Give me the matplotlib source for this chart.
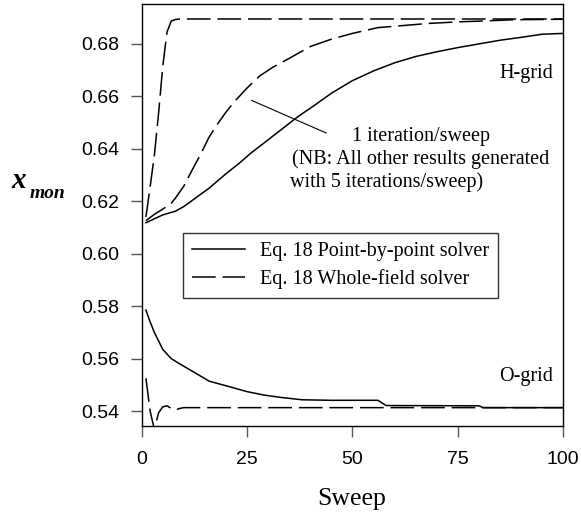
import matplotlib
matplotlib.use("Agg")
import matplotlib.pyplot as plt

# ---------------- data ----------------
# H-grid, Eq. 18 point-by-point solver (solid)
h_pp_sweep = [1, 3, 5, 8, 10, 13, 16, 20, 23, 26, 29, 33, 37, 41, 45, 50, 55,
              60, 65, 70, 75, 80, 85, 90, 95, 100]
h_pp_val = [0.6118, 0.6133, 0.6148, 0.6162, 0.6180, 0.6215, 0.6250, 0.6305, 0.6343,
            0.6385, 0.6422, 0.6472, 0.6522, 0.6566, 0.6612, 0.6660, 0.6697,
            0.6728, 0.6752, 0.6770, 0.6786, 0.6800, 0.6814, 0.6825, 0.6837, 0.6840]

# H-grid, Eq. 18 whole-field solver, 1 iteration/sweep (dashed)
h_wf1_sweep = [1, 3, 5, 7, 8, 10, 12, 14, 16, 18, 20, 22, 25, 28, 31, 35, 40, 45,
               50, 56, 62, 68, 75, 82, 88, 100]
h_wf1_val = [0.6126, 0.6150, 0.6170, 0.6192, 0.6212, 0.6258, 0.6320, 0.6380, 0.6445,
             0.6495, 0.6540, 0.6580, 0.6632, 0.6678, 0.6710, 0.6745, 0.6790, 0.6818,
             0.6840, 0.6862, 0.6870, 0.6878, 0.6884, 0.6888, 0.6892, 0.6894]

# H-grid, Eq. 18 whole-field solver, 5 iterations/sweep (dashed)
h_wf5_sweep = [1, 2, 3, 4, 5, 6, 7, 8, 9, 100]
h_wf5_val = [0.6140, 0.6255, 0.6375, 0.6535, 0.6715, 0.6845, 0.6887, 0.6893, 0.6895, 0.6895]

# O-grid, Eq. 18 point-by-point solver (solid)
o_pp_sweep = [1, 2, 3, 5, 7, 9, 12, 16, 21, 25, 29, 33, 38, 45, 56, 58, 80, 81, 100]
o_pp_val = [0.5785, 0.5740, 0.5700, 0.5635, 0.5600, 0.5580, 0.5552, 0.5514, 0.5492,
            0.5474, 0.5461, 0.5452, 0.5443, 0.5441, 0.5441, 0.5421, 0.5420, 0.5413, 0.5413]

# O-grid, Eq. 18 whole-field solver (dashed)
o_wf_sweep = [1, 2, 3, 4, 5, 6, 7, 8, 9, 10, 100]
o_wf_val = [0.5525, 0.5400, 0.5330, 0.5393, 0.5416, 0.5420, 0.5410, 0.5404, 0.5410,
            0.5413, 0.5413]

x_ticks = [0, 25, 50, 75, 100]
y_ticks = [0.54, 0.56, 0.58, 0.60, 0.62, 0.64, 0.66, 0.68]

legend_labels = ["Eq. 18 Point-by-point solver", "Eq. 18 Whole-field solver"]

# ---------------- figure ----------------
W, H = 581, 516
fig = plt.figure(figsize=(W / 100, H / 100), dpi=100)
ax_l, ax_r, ax_t, ax_b = 141.7, 563.3, 4.3, 426.0
ax = fig.add_axes([ax_l / W, 1 - ax_b / H, (ax_r - ax_l) / W, (ax_b - ax_t) / H])

serif = "Liberation Serif"
sans = "Liberation Sans"
lw = 1.1
dash = (15.5, 4.5)

ln_pp, = ax.plot(h_pp_sweep, h_pp_val, color="black", lw=lw, solid_joinstyle="round")
ax.plot(h_wf1_sweep, h_wf1_val, color="black", lw=lw, dashes=dash)
ln_wf, = ax.plot(h_wf5_sweep, h_wf5_val, color="black", lw=lw, dashes=dash)
ax.plot(o_pp_sweep, o_pp_val, color="black", lw=lw)
ax.plot(o_wf_sweep, o_wf_val, color="black", lw=lw, dashes=dash)

ax.set_xlim(0, 100)
ax.set_ylim(0.5343, 0.6951)
ax.set_xticks(x_ticks)
ax.set_xticklabels([str(t) for t in x_ticks])
ax.set_yticks(y_ticks)
ax.set_yticklabels([f"{t:.2f}" for t in y_ticks])

for lab in ax.get_xticklabels() + ax.get_yticklabels():
    lab.set_fontfamily(sans)
    lab.set_fontsize(14)
ax.tick_params(axis="both", direction="out", length=8, width=1.0, color="#555555")
ax.tick_params(axis="y", pad=8)
ax.tick_params(axis="x", pad=10)
for s in ax.spines.values():
    s.set_linewidth(1.0)
    s.set_color("black")

# legend
leg = ax.legend([ln_pp, ln_wf], legend_labels,
                loc="upper left",
                bbox_to_anchor=((183.3 - ax_l) / (ax_r - ax_l), (ax_b - 233.3) / (ax_b - ax_t)),
                borderaxespad=0, borderpad=0.45, handlelength=2.6, handletextpad=0.75,
                labelspacing=0.38, frameon=True, fancybox=False,
                prop={"family": serif, "size": 14.5})
leg.get_frame().set_edgecolor("black")
leg.get_frame().set_linewidth(1.0)


def afx(px):
    return (px - ax_l) / (ax_r - ax_l)


def afy(py):
    return (ax_b - py) / (ax_b - ax_t)


ax.text(afx(553), afy(73.3), "H-grid", transform=ax.transAxes, ha="right", va="center",
        family=serif, fontsize=14.5)
ax.text(afx(553), afy(376.7), "O-grid", transform=ax.transAxes, ha="right", va="center",
        family=serif, fontsize=14.5)

ax.annotate("", xy=(26.0, 0.6585), xytext=(43.8, 0.6460),
            arrowprops=dict(arrowstyle="-", color="black", lw=0.8, shrinkA=0, shrinkB=0))
ax.text(afx(420.5), afy(136.7), "1 iteration/sweep", transform=ax.transAxes,
        ha="center", va="center", family=serif, fontsize=14.5)
ax.text(afx(420.5), afy(159.2), "(NB: All other results generated", transform=ax.transAxes,
        ha="center", va="center", family=serif, fontsize=14.5)
ax.text(afx(290.5), afy(181.7), "with 5 iterations/sweep)", transform=ax.transAxes,
        ha="left", va="center", family=serif, fontsize=14.5)

# axis labels
fig.text(351.7 / W, 1 - 505 / H, "Sweep", ha="center", va="baseline",
         family=serif, fontsize=18.5)
fig.text(11 / W, 1 - 188 / H, "x", ha="left", va="baseline",
         family=serif, fontsize=21, fontweight="bold", fontstyle="italic")
fig.text(30 / W, 1 - 198 / H, "mon", ha="left", va="baseline",
         family=serif, fontsize=14, fontweight="bold", fontstyle="italic")

fig.savefig("out.png", dpi=100)
